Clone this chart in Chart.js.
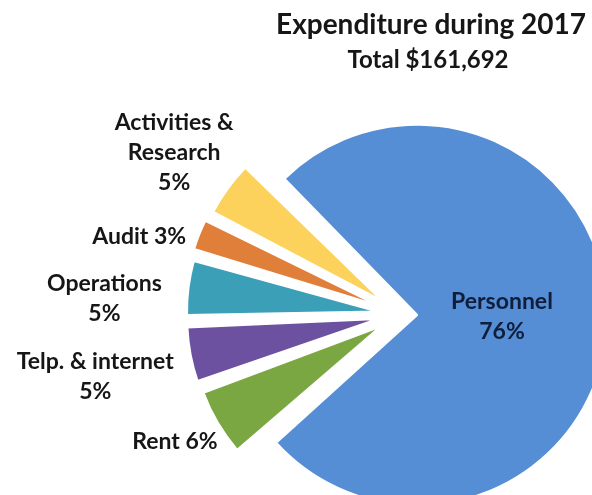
<!DOCTYPE html>
<html>
<head>
<meta charset="utf-8">
<script src="https://cdn.jsdelivr.net/npm/chart.js@4.4.1/dist/chart.umd.min.js"></script>
<style>
  html, body { margin: 0; padding: 0; background: #fff; }
  canvas { display: block; }
</style>
</head>
<body>
<canvas id="pieChart" width="592" height="495"></canvas>
<script>
// chart text
const TITLE = "Expenditure during 2017";
const SUBTITLE = "Total $161,692";
// slices, clockwise from the big one
const categories = ["Personnel", "Rent", "Telp. & internet", "Operations", "Audit", "Activities & Research"];
const shares = [76, 6, 5, 5, 3, 5];
const sliceLabels = ["Personnel\n76%", "Rent 6%", "Telp. & internet\n5%", "Operations\n5%", "Audit 3%", "Activities &\nResearch\n5%"];
const colours = ["#558ed5", "#7ba742", "#6c51a0", "#3c9fb8", "#e07f3a", "#fdd25c"];

const FONT = "Lato, 'Open Sans', sans-serif";
// label distance from pie centre (px) and angle nudge from slice middle (deg)
const labelPlace = [[101, -0.4], [259.5, 1.2], [312, -0.7], [297, -4.2], [273, -5.1], [279, -0.4]];

const pieLabels = {
  id: 'pieLabels',
  afterDatasetsDraw(chart) {
    const ctx = chart.ctx;
    const arcs = chart.getDatasetMeta(0).data;
    ctx.save();
    ctx.textAlign = 'center';
    ctx.textBaseline = 'middle';
    arcs.forEach((arc, i) => {
      const mid = (arc.startAngle + arc.endAngle) / 2;
      const [dist, nudge] = labelPlace[i];
      const a = mid + nudge * Math.PI / 180;
      const cx = arc.x + Math.cos(a) * dist;
      const cy = arc.y + Math.sin(a) * dist;
      const lines = sliceLabels[i].split('\n');
      ctx.fillStyle = i === 0 ? '#0f1e3c' : '#161616';
      ctx.font = 'bold 23px ' + FONT;
      lines.forEach((ln, k) => {
        ctx.fillText(ln, cx, cy + (k - (lines.length - 1) / 2) * 30);
      });
    });
    ctx.fillStyle = '#161616';
    ctx.font = 'bold 28px ' + FONT;
    ctx.fillText(TITLE, 431, 25);
    ctx.font = 'bold 24px ' + FONT;
    ctx.fillText(SUBTITLE, 428, 60);
    ctx.restore();
  }
};

new Chart(document.getElementById('pieChart'), {
  type: 'pie',
  data: {
    labels: categories,
    datasets: [{
      data: shares,
      backgroundColor: colours,
      borderColor: '#ffffff',
      borderWidth: 2,
      offset: [65, 95, 95, 95, 95, 95],
      clip: false
    }]
  },
  options: {
    responsive: false,
    animation: false,
    events: [],
    rotation: 315,
    radius: 174,
    layout: { padding: { left: 210, right: 0, top: 134, bottom: 0 } },
    plugins: {
      legend: { display: false },
      tooltip: { enabled: false }
    }
  },
  plugins: [pieLabels]
});
</script>
</body>
</html>
